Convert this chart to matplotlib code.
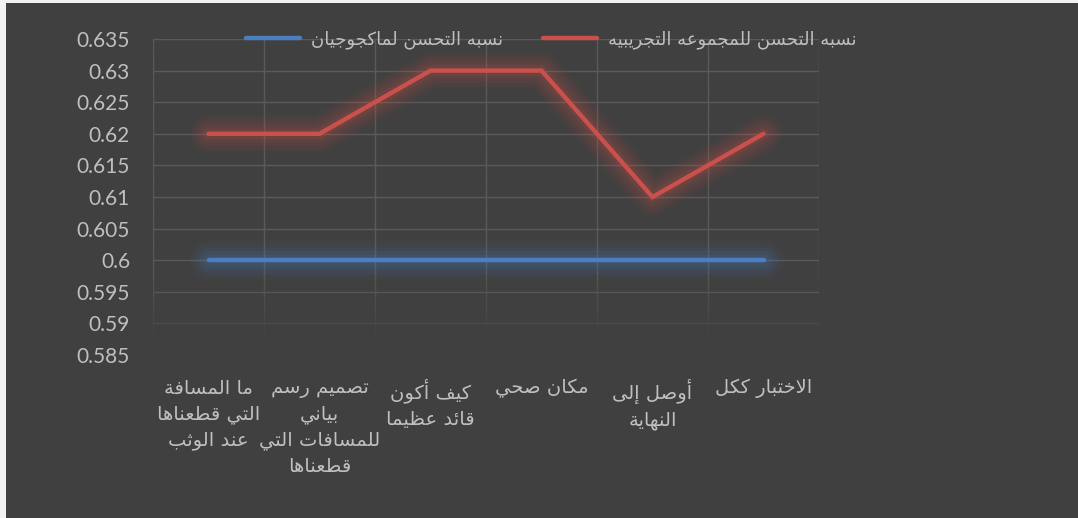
import numpy as np
import matplotlib
matplotlib.use('Agg')
from matplotlib import pyplot as plt
from matplotlib.patches import Rectangle
from matplotlib.collections import LineCollection
from matplotlib.ticker import MultipleLocator, FormatStrFormatter

# data
categories = ['ما المسافة\nالتي قطعناها\nعند الوثب',
              'تصميم رسم\nبياني\nللمسافات التي\nقطعناها',
              'كيف أكون\nقائد عظيما',
              'مكان صحي',
              'أوصل إلى\nالنهاية',
              'الاختبار ككل']
mcgugian = [0.6, 0.6, 0.6, 0.6, 0.6, 0.6]
experimental = [0.62, 0.62, 0.63, 0.63, 0.61, 0.62]
label_mcgugian = 'نسبه التحسن لماكجوجيان'
label_experimental = 'نسبه التحسن للمجموعه التجريبيه'

# matplotlib has no arabic shaping, so map letters to presentation forms by hand
DUAL = {'ئ': 0xFE89, 'ب': 0xFE8F, 'ت': 0xFE95, 'ث': 0xFE99, 'ج': 0xFE9D, 'ح': 0xFEA1,
        'خ': 0xFEA5, 'س': 0xFEB1, 'ش': 0xFEB5, 'ص': 0xFEB9, 'ض': 0xFEBD, 'ط': 0xFEC1,
        'ظ': 0xFEC5, 'ع': 0xFEC9, 'غ': 0xFECD, 'ف': 0xFED1, 'ق': 0xFED5, 'ك': 0xFED9,
        'ل': 0xFEDD, 'م': 0xFEE1, 'ن': 0xFEE5, 'ه': 0xFEE9, 'ي': 0xFEF1}
RIGHT = {'آ': 0xFE81, 'أ': 0xFE83, 'ؤ': 0xFE85, 'إ': 0xFE87, 'ا': 0xFE8D, 'ة': 0xFE93,
         'د': 0xFEA9, 'ذ': 0xFEAB, 'ر': 0xFEAD, 'ز': 0xFEAF, 'و': 0xFEED, 'ى': 0xFEEF}
LAM_ALEF = {'آ': 0xFEF5, 'أ': 0xFEF7, 'إ': 0xFEF9, 'ا': 0xFEFB}


def shape_line(line):
    out = []
    i, n = 0, len(line)
    while i < n:
        c = line[i]
        prev = line[i-1] if i > 0 else ' '
        con_prev = prev in DUAL and (c in DUAL or c in RIGHT)
        if c == 'ل' and i+1 < n and line[i+1] in LAM_ALEF:
            out.append(chr(LAM_ALEF[line[i+1]] + (1 if con_prev else 0)))
            i += 2
            continue
        nxt = line[i+1] if i+1 < n else ' '
        if c in DUAL:
            con_next = nxt in DUAL or nxt in RIGHT
            out.append(chr(DUAL[c] + (1 if con_prev else 0) + (2 if con_next else 0)))
        elif c in RIGHT:
            out.append(chr(RIGHT[c] + (1 if con_prev else 0)))
        else:
            out.append(c)
        i += 1
    return ''.join(reversed(out))


def shape(text):
    return '\n'.join(shape_line(l) for l in text.split('\n'))


bg = '#404040'
txt = '#bfbfbf'
grid = '#5a5a5a'
red = '#c9504b'
blue = '#4a7ebf'

plt.rcParams['font.family'] = ['Lato', 'DejaVu Sans']

fig = plt.figure(figsize=(10.78, 5.18), dpi=100, facecolor=bg)
# light strips at the left and top edge
fig.patches.append(Rectangle((0, 0), 6/1078, 1, transform=fig.transFigure,
                             facecolor='#f2f2f2', edgecolor='none'))
fig.patches.append(Rectangle((0, 1 - 3/518), 1, 3/518, transform=fig.transFigure,
                             facecolor='#f2f2f2', edgecolor='none'))
ax = fig.add_axes([153/1078, 1 - 355/518, (819-153)/1078, (355-39)/518])
ax.set_facecolor('none')
for s in ax.spines.values():
    s.set_visible(False)

x = np.arange(len(categories))
ax.set_xlim(-0.5, len(categories) - 0.5)
ax.set_ylim(0.585, 0.635)

# gridlines, fading out towards the bottom
yt = np.arange(0.585, 0.6351, 0.005)
for v in yt:
    a = float(np.clip((v - 0.5855) / 0.011, 0, 1))
    ax.axhline(v, color=grid, lw=1, alpha=a, zorder=1)
ys = np.linspace(0.585, 0.635, 60)
for b in np.arange(-0.5, len(categories), 1.0):
    segs = [[(b, ys[k]), (b, ys[k+1])] for k in range(len(ys) - 1)]
    alphas = np.clip((ys[:-1] - 0.587) / 0.012, 0, 1)
    cols = [matplotlib.colors.to_rgba(grid, a) for a in alphas]
    ax.add_collection(LineCollection(segs, colors=cols, linewidths=1, zorder=1))

# glow behind the lines
for lw, a in [(28, 0.045), (23, 0.055), (18, 0.07), (13, 0.09), (8, 0.12)]:
    ax.plot(x, mcgugian, color=blue, lw=lw, alpha=a, solid_capstyle='round',
            solid_joinstyle='round', zorder=2)
    ax.plot(x, experimental, color=red, lw=lw, alpha=a, solid_capstyle='round',
            solid_joinstyle='round', zorder=2)
ax.plot(x, mcgugian, color=blue, lw=3.2, solid_capstyle='round', zorder=3,
        label=shape(label_mcgugian))
ax.plot(x, experimental, color=red, lw=3.2, solid_capstyle='round',
        solid_joinstyle='miter', zorder=3, label=shape(label_experimental))

ax.yaxis.set_major_locator(MultipleLocator(0.005))
ax.yaxis.set_major_formatter(FormatStrFormatter('%g'))
ax.tick_params(axis='y', length=0, pad=16.5, labelsize=15, labelcolor=txt)
ax.set_xticks(x)
ax.set_xticklabels([shape(c) for c in categories], fontsize=14, color=txt,
                   family='DejaVu Sans', linespacing=1.45, va='top')
ax.tick_params(axis='x', length=0, pad=17)

leg = ax.legend(loc='center', bbox_to_anchor=(551/1078, 1 - 40/518),
                bbox_transform=fig.transFigure, ncol=2, frameon=False,
                handlelength=3.0, handletextpad=0.6, columnspacing=2.2,
                prop={'family': 'DejaVu Sans', 'size': 13})
for t in leg.get_texts():
    t.set_color(txt)

fig.savefig('out.png', dpi=100, facecolor=fig.get_facecolor())
